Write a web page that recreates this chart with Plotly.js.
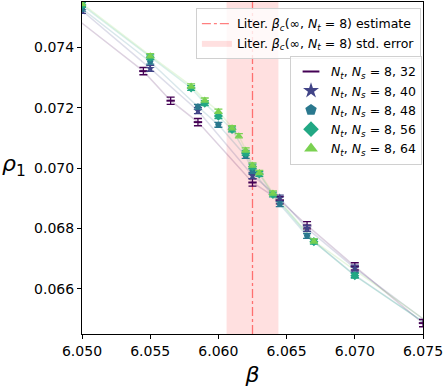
<!DOCTYPE html>
<html>
<head>
<meta charset="utf-8">
<script src="https://cdn.plot.ly/plotly-3.0.1.min.js"></script>
<style>
  html, body { margin: 0; padding: 0; background: #fff; }
  #chart { width: 448px; height: 388px; }
</style>
</head>
<body>
<div id="chart"></div>
<script>
/* ==========================================
   DATA
========================================== */

// literature critical coupling and its error
const betaCrit = 6.0625;
const betaCritErr = 0.0019;
const rhoRange = [0.0645, 0.0755];

// Nt, Ns = 8, 32
const beta32 = [6.045, 6.0545, 6.0565, 6.0585, 6.0625, 6.0645, 6.0665, 6.070, 6.075];
const rho32  = [0.07657, 0.07321, 0.07223, 0.07152, 0.06952, 0.06893, 0.06810, 0.06674, 0.06486];
const err32  = [0.00012, 0.00012, 0.00012, 0.00012, 0.00012, 0.00012, 0.00012, 0.00012, 0.00012];

// Nt, Ns = 8, 40
const beta40 = [6.050, 6.055, 6.0585, 6.0625, 6.0645, 6.0665, 6.070, 6.080];
const rho40  = [0.07522, 0.07330, 0.07190, 0.06975, 0.06900, 0.06800, 0.06668, 0.06332];
const err40  = [0.00010, 0.00010, 0.00010, 0.00010, 0.00010, 0.00010, 0.00010, 0.00010];

// Nt, Ns = 8, 48
const beta48 = [6.050, 6.055, 6.0585, 6.060, 6.062, 6.0625, 6.0645, 6.0665, 6.070, 6.080];
const rho48  = [0.07528, 0.07352, 0.07203, 0.07143, 0.07040, 0.06990, 0.06880, 0.06775, 0.06645, 0.06337];
const err48  = [0.00008, 0.00008, 0.00008, 0.00008, 0.00008, 0.00008, 0.00008, 0.00008, 0.00008, 0.00008];

// Nt, Ns = 8, 56
const beta56 = [6.050, 6.055, 6.058, 6.059, 6.060, 6.061, 6.062, 6.0625, 6.063, 6.064, 6.067, 6.070, 6.080];
const rho56  = [0.07540, 0.07367, 0.07265, 0.07215, 0.07172, 0.07128, 0.07050, 0.07005, 0.06980, 0.06912, 0.06756, 0.06643, 0.06337];
const err56  = [0.00008, 0.00008, 0.00008, 0.00008, 0.00008, 0.00008, 0.00008, 0.00008, 0.00008, 0.00008, 0.00008, 0.00008, 0.00008];

// Nt, Ns = 8, 64
const beta64 = [6.050, 6.055, 6.058, 6.059, 6.060, 6.061, 6.0615, 6.062, 6.0625, 6.063, 6.064, 6.067, 6.080];
const rho64  = [0.07545, 0.07372, 0.07272, 0.07225, 0.07188, 0.07133, 0.07107, 0.07060, 0.07010, 0.06985, 0.06917, 0.06758, 0.06340];
const err64  = [0.00007, 0.00007, 0.00007, 0.00007, 0.00007, 0.00007, 0.00007, 0.00007, 0.00007, 0.00007, 0.00007, 0.00007, 0.00007];

const seriesNames = ["32", "40", "48", "56", "64"];
const seriesColors = ["#440154", "#414487", "#2a788e", "#22a884", "#7ad151"];
const seriesLines = [
    "rgba(68,1,84,0.18)", "rgba(65,68,135,0.18)", "rgba(42,120,142,0.18)",
    "rgba(34,168,132,0.18)", "rgba(122,209,81,0.18)"
];
const seriesSymbols = ["line-ew", "star", "pentagon", "diamond", "triangle-up"];

const betaData = [beta32, beta40, beta48, beta56, beta64];
const rhoData = [rho32, rho40, rho48, rho56, rho64];
const errData = [err32, err40, err48, err56, err64];


/* ==========================================
   TRACES
========================================== */

const traces = [];

// std. error band
traces.push({
    x: [betaCrit - betaCritErr, betaCrit - betaCritErr, betaCrit + betaCritErr, betaCrit + betaCritErr],
    y: [rhoRange[0], rhoRange[1], rhoRange[1], rhoRange[0]],
    mode: "lines",
    fill: "toself",
    fillcolor: "rgba(255,0,0,0.12)",
    line: { width: 0, color: "rgba(255,0,0,0)" },
    name: "Liter. <i>β<sub>c</sub></i>(∞, <i>N<sub>t</sub></i> = 8) std. error",
    legend: "legend",
    legendrank: 2,
    hoverinfo: "skip"
});

// estimate line
traces.push({
    x: [betaCrit, betaCrit],
    y: rhoRange,
    mode: "lines",
    line: { color: "rgba(255,0,0,0.5)", width: 1.3, dash: "dashdot" },
    name: "Liter. <i>β<sub>c</sub></i>(∞, <i>N<sub>t</sub></i> = 8) estimate",
    legend: "legend",
    legendrank: 1,
    hoverinfo: "skip"
});

// connecting lines (pale)
seriesNames.forEach((ns, i) => {
    traces.push({
        x: betaData[i],
        y: rhoData[i],
        mode: "lines",
        line: { color: seriesLines[i], width: 1.5 },
        showlegend: false,
        hoverinfo: "skip"
    });
});

// markers with error bars
seriesNames.forEach((ns, i) => {
    const isLine = seriesSymbols[i] === "line-ew";
    traces.push({
        x: betaData[i],
        y: rhoData[i],
        mode: "markers",
        name: "<i>N<sub>t</sub></i>, <i>N<sub>s</sub></i> = 8, " + ns,
        legend: "legend2",
        marker: {
            symbol: seriesSymbols[i],
            size: isLine ? 6 : 7,
            color: seriesColors[i],
            line: { color: seriesColors[i], width: isLine ? 2 : 0 }
        },
        error_y: {
            type: "data",
            array: errData[i],
            visible: true,
            color: seriesColors[i],
            thickness: 1.3,
            width: 4
        }
    });
});


/* ==========================================
   LAYOUT
========================================== */

const layout = {
    width: 448,
    height: 388,
    margin: { l: 82, r: 25, t: 2, b: 54 },
    paper_bgcolor: "#fff",
    plot_bgcolor: "#fff",
    font: { family: "DejaVu Sans", size: 14, color: "#000" },
    showlegend: true,
    xaxis: {
        range: [6.050, 6.075],
        tickvals: [6.050, 6.055, 6.060, 6.065, 6.070, 6.075],
        ticktext: ["6.050", "6.055", "6.060", "6.065", "6.070", "6.075"],
        ticks: "outside",
        ticklen: 4,
        tickcolor: "#000",
        showgrid: false,
        zeroline: false,
        showline: true,
        linecolor: "#000",
        linewidth: 1,
        mirror: true,
        tickfont: { size: 14 },
        title: { text: "<i>β</i>", font: { size: 22 }, standoff: 8 }
    },
    yaxis: {
        range: rhoRange,
        tickvals: [0.066, 0.068, 0.070, 0.072, 0.074],
        ticktext: ["0.066", "0.068", "0.070", "0.072", "0.074"],
        ticks: "outside",
        ticklen: 4,
        tickcolor: "#000",
        showgrid: false,
        zeroline: false,
        showline: true,
        linecolor: "#000",
        linewidth: 1,
        mirror: true,
        tickfont: { size: 14 }
    },
    legend: {
        x: 0.334,
        y: 0.982,
        xanchor: "left",
        yanchor: "top",
        bgcolor: "rgba(255,255,255,0.8)",
        bordercolor: "#d0d0d0",
        borderwidth: 1,
        font: { size: 12.5 },
        tracegroupgap: 0,
        itemwidth: 30
    },
    legend2: {
        x: 0.61,
        y: 0.838,
        xanchor: "left",
        yanchor: "top",
        bgcolor: "rgba(255,255,255,0.8)",
        bordercolor: "#d0d0d0",
        borderwidth: 1,
        font: { size: 12.5 },
        itemsizing: "constant",
        tracegroupgap: 0,
        itemwidth: 30
    },
    annotations: [
        {
            text: "<i>ρ</i><sub>1</sub>",
            xref: "paper",
            yref: "paper",
            x: -0.2,
            y: 0.509,
            xanchor: "center",
            yanchor: "middle",
            showarrow: false,
            font: { size: 22 }
        }
    ]
};

Plotly.newPlot("chart", traces, layout, { staticPlot: true });
</script>
</body>
</html>
